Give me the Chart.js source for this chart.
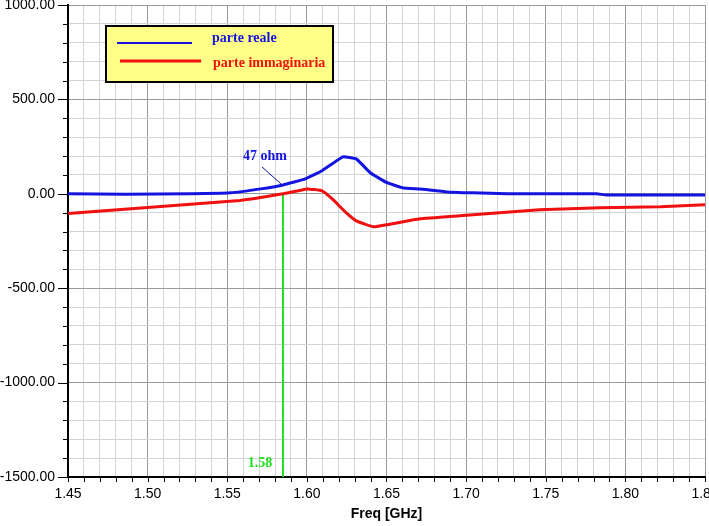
<!DOCTYPE html>
<html>
<head>
<meta charset="utf-8">
<script src="https://cdn.jsdelivr.net/npm/chart.js@4/dist/chart.umd.min.js"></script>
<style>
  html, body { margin: 0; padding: 0; background: #fff; }
  #wrap { width: 709px; height: 526px; }
</style>
</head>
<body>
<div id="wrap"><canvas id="myChart" width="709" height="526"></canvas></div>
<script>
// dati
const freqReale = [1.45, 1.486, 1.527, 1.552, 1.571, 1.585, 1.599, 1.6095, 1.6226, 1.631, 1.64, 1.65, 1.66, 1.671, 1.688, 1.704, 1.726, 1.782, 1.788, 1.85];
const parteReale = [0, -2, 0, 5, 26, 47, 79, 122, 196, 185, 110, 60, 32, 25, 10, 5, 0, 0, -6, -6];

const freqImm = [1.45, 1.50, 1.558, 1.585, 1.600, 1.6095, 1.6158, 1.6246, 1.631, 1.642, 1.650, 1.671, 1.696, 1.721, 1.746, 1.784, 1.822, 1.85];
const parteImm = [-104, -72, -35, 0, 26, 16, -26, -100, -143, -175, -164, -132, -116, -100, -85, -74, -69, -58];

const markerFreq = [1.585, 1.585];
const markerVal = [0, -1500];

const labelReale = 'parte reale';
const labelImm = 'parte immaginaria';
const markerText = '1.58';
const noteText = '47 ohm';

const BLUE = '#1414e0';
const RED = '#f01010';
const GREEN = '#22e022';
const MAJOR = '#9a9a9a';
const MINOR = '#d4d4d4';

function toPoints(xs, ys) {
    return xs.map((x, i) => ({ x: x, y: ys[i] }));
}

function isMajorX(v) {
    return Math.round(v * 100) % 5 === 0;
}
function isMajorY(v) {
    return Math.round(v) % 500 === 0;
}

// tacche degli assi, legenda e annotazioni
const extras = {
    id: 'extras',
    afterDraw(chart) {
        const ctx = chart.ctx;
        const xs = chart.scales.x;
        const ys = chart.scales.y;
        const area = chart.chartArea;

        ctx.save();
        ctx.strokeStyle = '#000';
        ctx.lineWidth = 1;
        ys.ticks.forEach(t => {
            const y = Math.round(ys.getPixelForValue(t.value)) + 0.5;
            const len = isMajorY(t.value) ? 10 : 5;
            ctx.beginPath();
            ctx.moveTo(area.left - len, y);
            ctx.lineTo(area.left, y);
            ctx.stroke();
        });
        xs.ticks.forEach(t => {
            const x = Math.round(xs.getPixelForValue(t.value)) + 0.5;
            ctx.beginPath();
            ctx.moveTo(x, area.bottom);
            ctx.lineTo(x, area.bottom + 5);
            ctx.stroke();
        });

        // legenda
        ctx.fillStyle = '#ffff88';
        ctx.fillRect(106, 26, 227, 56);
        ctx.lineWidth = 2;
        ctx.strokeStyle = '#000';
        ctx.strokeRect(106, 26, 227, 56);
        ctx.lineWidth = 2;
        ctx.strokeStyle = BLUE;
        ctx.beginPath(); ctx.moveTo(117, 43); ctx.lineTo(192, 43); ctx.stroke();
        ctx.strokeStyle = RED;
        ctx.lineWidth = 3;
        ctx.beginPath(); ctx.moveTo(120, 61); ctx.lineTo(201, 61); ctx.stroke();
        ctx.font = 'bold 14px "Liberation Serif", "Times New Roman", serif';
        ctx.textBaseline = 'middle';
        ctx.textAlign = 'left';
        ctx.fillStyle = BLUE;
        ctx.fillText(labelReale, 212, 38);
        ctx.fillStyle = RED;
        ctx.fillText(labelImm, 213, 63);

        // nota 47 ohm
        const px = xs.getPixelForValue(markerFreq[0]);
        const py = ys.getPixelForValue(47);
        ctx.fillStyle = BLUE;
        ctx.textAlign = 'center';
        ctx.fillText(noteText, px - 18, py - 29);
        ctx.strokeStyle = '#1010a0';
        ctx.lineWidth = 1;
        ctx.beginPath(); ctx.moveTo(px - 21, py - 18); ctx.lineTo(px - 2, py - 1); ctx.stroke();

        // etichetta 1.58
        ctx.fillStyle = GREEN;
        ctx.fillText(markerText, px - 23, area.bottom - 14);
        ctx.restore();
    }
};

const chart = new Chart(document.getElementById('myChart'), {
    type: 'line',
    data: {
        datasets: [
            {
                label: 'marker',
                data: toPoints(markerFreq, markerVal),
                borderColor: GREEN,
                borderWidth: 2,
                pointRadius: 0,
                order: 3
            },
            {
                label: labelImm,
                data: toPoints(freqImm, parteImm),
                borderColor: RED,
                borderWidth: 3,
                pointRadius: 0,
                tension: 0.1,
                order: 2
            },
            {
                label: labelReale,
                data: toPoints(freqReale, parteReale),
                borderColor: BLUE,
                borderWidth: 3,
                pointRadius: 0,
                tension: 0.1,
                order: 1
            }
        ]
    },
    options: {
        responsive: false,
        animation: false,
        layout: { padding: { top: 5, right: 4, left: 0, bottom: 0 } },
        plugins: {
            legend: { display: false },
            tooltip: { enabled: false }
        },
        scales: {
            x: {
                type: 'linear',
                min: 1.45,
                max: 1.85,
                afterFit: s => {
                    s.height = 49;
                    s.paddingLeft = 0;
                    s.paddingRight = 0;
                },
                border: { color: '#000', width: 2 },
                grid: {
                    drawTicks: false,
                    color: c => isMajorX(c.tick.value) ? MAJOR : MINOR
                },
                ticks: {
                    stepSize: 0.01,
                    maxTicksLimit: 100,
                    autoSkip: false,
                    maxRotation: 0,
                    padding: 9,
                    color: '#000',
                    font: { family: '"Liberation Sans", Arial, sans-serif', size: 14 },
                    callback: v => isMajorX(v) ? v.toFixed(2) : ''
                },
                title: {
                    display: true,
                    text: 'Freq [GHz]',
                    color: '#000',
                    font: { family: '"Liberation Sans", Arial, sans-serif', size: 14, weight: 'bold' },
                    padding: { top: 0, bottom: 3 }
                }
            },
            y: {
                min: -1500,
                max: 1000,
                afterFit: s => {
                    s.width = 68;
                    s.paddingTop = 0;
                    s.paddingBottom = 0;
                },
                border: { color: '#000', width: 2 },
                grid: {
                    drawTicks: false,
                    color: c => isMajorY(c.tick.value) ? MAJOR : MINOR
                },
                ticks: {
                    stepSize: 100,
                    maxTicksLimit: 100,
                    autoSkip: false,
                    padding: 13,
                    color: '#000',
                    font: { family: '"Liberation Sans", Arial, sans-serif', size: 14 },
                    callback: v => isMajorY(v) ? v.toFixed(2) : ''
                }
            }
        }
    },
    plugins: [extras]
});
</script>
</body>
</html>
